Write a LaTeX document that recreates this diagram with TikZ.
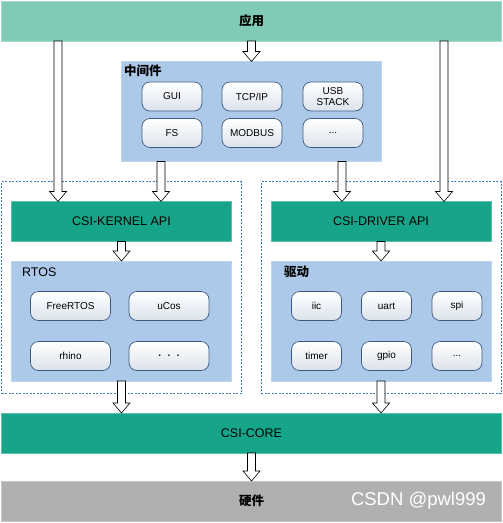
\documentclass[tikz,border=0pt]{standalone}
\usepackage{fontspec}
\setmainfont{Liberation Sans}
\newfontfamily\cjk{Noto Sans CJK SC}
\usetikzlibrary{calc}

\definecolor{appgreen}{HTML}{80CBB5}
\definecolor{csigreen}{HTML}{17A589}
\definecolor{layerblue}{HTML}{ADC9E9}
\definecolor{hwgray}{HTML}{B0B0B0}
\definecolor{dashblue}{HTML}{3A7CC0}
\definecolor{itemedge}{HTML}{3C5A80}
\definecolor{itembot}{HTML}{DCE2EC}

\begin{document}
\begin{tikzpicture}[x=1pt,y=-1pt,
    bar/.style={inner sep=0pt,outer sep=0pt,minimum height=40pt},
    layer/.style={fill=layerblue,draw=layerblue!80!white,inner sep=0pt,outer sep=0pt},
    item/.style={draw=itemedge,line width=0.7pt,rounded corners=8pt,top color=white,bottom color=itembot,
        inner sep=0pt,outer sep=0pt,minimum height=29pt,font=\fontsize{10}{11}\selectfont,align=center},
    group/.style={draw=dashblue,line width=0.6pt,dash pattern=on 2pt off 1.5pt,inner sep=0pt,outer sep=0pt,
        minimum width=240pt,minimum height=212pt},
    title/.style={font=\fontsize{12.5}{14}\selectfont},
    cjktitle/.style={font=\cjk\bfseries\fontsize{12.5}{14}\selectfont},
    hollow/.style={fill=white,draw=black,line width=0.6pt,
        to path={let \p1=(\tikztostart), \p2=(\tikztotarget) in
            (\x2-4pt,\y1) -- (\x2+4pt,\y1) -- (\x2+4pt,\y2+10pt) -- (\x2+8.5pt,\y2+10pt)
            -- (\x2,\y2) -- (\x2-8.5pt,\y2+10pt) -- (\x2-4pt,\y2+10pt) -- cycle}}]
    \useasboundingbox (0,0) rectangle (503,523);

    % 应用层
    \node[bar,fill=appgreen,draw=appgreen!70!white,minimum width=500pt,cjktitle] (app) at (251.5,21) {应用};

    % 中间件
    \node[layer,minimum width=260pt,minimum height=100pt] (mid) at (251.5,111.5) {};
    \node[cjktitle,anchor=west,inner sep=0pt] (midlabel) at (124,70.5) {中间件};
    \node[item,minimum width=60pt] (gui) at (172,96.5) {GUI};
    \node[item,minimum width=60pt] (tcp) at (252,96.5) {TCP/IP};
    \node[item,minimum width=60pt] (usb) at (333,96.5) {USB\\STACK};
    \node[item,minimum width=60pt] (fs) at (172,133) {FS};
    \node[item,minimum width=60pt] (modbus) at (252,133) {MODBUS};
    \node[item,minimum width=60pt] (middots) at (333,133) {...};

    % 虚线框
    \node[group] (left) at (121.5,287.5) {};
    \node[group] (right) at (381,287.5) {};

    % 内核部分
    \node[bar,fill=csigreen,draw=csigreen!70!white,minimum width=220pt,title] (kernel) at (121.5,221.5) {CSI-KERNEL API};
    \node[layer,minimum width=220pt,minimum height=120pt] (rtos) at (121.5,321) {};
    \node[title,anchor=west,inner sep=0pt] (rtoslabel) at (22,272) {RTOS};
    \node[item,minimum width=80pt] (freertos) at (70.5,306) {FreeRTOS};
    \node[item,minimum width=80pt] (ucos) at (169,306) {uCos};
    \node[item,minimum width=80pt] (rhino) at (70.5,356) {rhino};
    \node[item,minimum width=80pt,font=\fontsize{14}{15}\selectfont] (rtosdots) at (169,356) {. . .};

    % 驱动部分
    \node[bar,fill=csigreen,draw=csigreen!70!white,minimum width=220pt,title] (driver) at (381,221.5) {CSI-DRIVER API};
    \node[layer,minimum width=220pt,minimum height=120pt] (drv) at (381,321) {};
    \node[cjktitle,anchor=west,inner sep=0pt] (drvlabel) at (284,272) {驱动};
    \node[item,minimum width=50pt] (iic) at (316.5,306) {iic};
    \node[item,minimum width=50pt] (uart) at (386.5,306) {uart};
    \node[item,minimum width=50pt] (spi) at (457,306) {spi};
    \node[item,minimum width=50pt] (timer) at (316.5,356) {timer};
    \node[item,minimum width=50pt] (gpio) at (386.5,356) {gpio};
    \node[item,minimum width=50pt] (drvdots) at (457,356) {...};

    % CSI-CORE 和硬件
    \node[bar,fill=csigreen,draw=csigreen!70!white,minimum width=500pt,title] (core) at (251.5,433) {CSI-CORE};
    \node[bar,fill=hwgray,draw=hwgray!70!white,minimum width=500pt,cjktitle] (hw) at (251.5,501) {硬件};
    \node[text=gray!60,font=\fontsize{18.5}{20}\selectfont] (mark) at (419.5,501.5) {CSDN @pwl999};
    \node[text=white,font=\fontsize{18.5}{20}\selectfont] at (418.5,500.5) {CSDN @pwl999};

    % 空心箭头
    \draw[hollow] (app.south) to (mid.north);
    \draw[hollow] (app.south) to ([xshift=-63.5pt]kernel.north);
    \draw[hollow] (app.south) to ([xshift=63pt]driver.north);
    \draw[hollow] (mid.south) to ([xshift=39.5pt]kernel.north);
    \draw[hollow] (mid.south) to ([xshift=-39pt]driver.north);
    \draw[hollow] (kernel.south) to (rtos.north);
    \draw[hollow] (driver.south) to (drv.north);
    \draw[hollow] (rtos.south) to (core.north -| rtos.south);
    \draw[hollow] (drv.south) to (core.north -| drv.south);
    \draw[hollow] (core.south) to (hw.north);
\end{tikzpicture}
\end{document}
